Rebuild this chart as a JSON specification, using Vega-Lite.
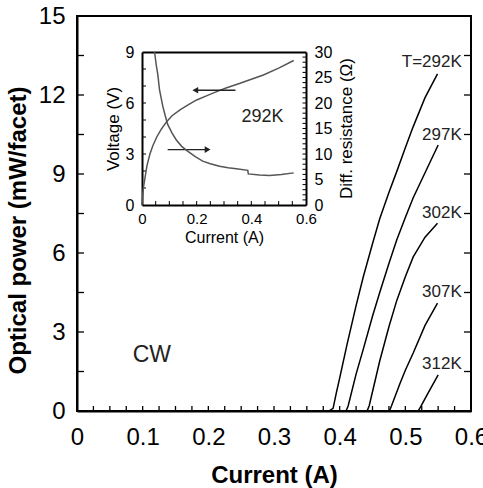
{
  "$schema": "https://vega.github.io/schema/vega-lite/v6.json",
  "width": 394,
  "height": 395,
  "autosize": "none",
  "padding": {"left": 77, "top": 16, "right": 12, "bottom": 77},
  "config": {
    "font": "Liberation Sans",
    "view": {"stroke": "black", "strokeWidth": 2},
    "axis": {"grid": false, "labelColor": "black", "titleColor": "black", "domainColor": "black", "labelFlush": false, "labelOverlap": false}
  },
  "datasets": {
    "main": [
      {"T": "292K", "I": 0.340, "P": 0}, {"T": "292K", "I": 0.385, "P": 0.02}, {"T": "292K", "I": 0.390, "P": 0.1}, {"T": "292K", "I": 0.395, "P": 0.7}, {"T": "292K", "I": 0.400, "P": 1.25}, {"T": "292K", "I": 0.411, "P": 2.5}, {"T": "292K", "I": 0.425, "P": 4.0}, {"T": "292K", "I": 0.436, "P": 5.1}, {"T": "292K", "I": 0.450, "P": 6.35}, {"T": "292K", "I": 0.461, "P": 7.3}, {"T": "292K", "I": 0.475, "P": 8.3}, {"T": "292K", "I": 0.487, "P": 9.1}, {"T": "292K", "I": 0.500, "P": 10.0}, {"T": "292K", "I": 0.512, "P": 10.8}, {"T": "292K", "I": 0.530, "P": 11.9}, {"T": "292K", "I": 0.549, "P": 12.8},
      {"T": "297K", "I": 0.395, "P": 0}, {"T": "297K", "I": 0.410, "P": 0.02}, {"T": "297K", "I": 0.413, "P": 0.2}, {"T": "297K", "I": 0.425, "P": 1.4}, {"T": "297K", "I": 0.436, "P": 2.35}, {"T": "297K", "I": 0.450, "P": 3.6}, {"T": "297K", "I": 0.461, "P": 4.5}, {"T": "297K", "I": 0.475, "P": 5.6}, {"T": "297K", "I": 0.487, "P": 6.5}, {"T": "297K", "I": 0.500, "P": 7.35}, {"T": "297K", "I": 0.512, "P": 8.1}, {"T": "297K", "I": 0.532, "P": 9.15}, {"T": "297K", "I": 0.550, "P": 10.1},
      {"T": "302K", "I": 0.430, "P": 0}, {"T": "302K", "I": 0.442, "P": 0.02}, {"T": "302K", "I": 0.445, "P": 0.2}, {"T": "302K", "I": 0.461, "P": 1.9}, {"T": "302K", "I": 0.475, "P": 3.2}, {"T": "302K", "I": 0.487, "P": 4.2}, {"T": "302K", "I": 0.500, "P": 5.1}, {"T": "302K", "I": 0.512, "P": 5.85}, {"T": "302K", "I": 0.530, "P": 6.6}, {"T": "302K", "I": 0.549, "P": 7.13},
      {"T": "307K", "I": 0.465, "P": 0}, {"T": "307K", "I": 0.476, "P": 0.02}, {"T": "307K", "I": 0.479, "P": 0.2}, {"T": "307K", "I": 0.492, "P": 1.05}, {"T": "307K", "I": 0.500, "P": 1.55}, {"T": "307K", "I": 0.512, "P": 2.2}, {"T": "307K", "I": 0.530, "P": 3.25}, {"T": "307K", "I": 0.549, "P": 4.1},
      {"T": "312K", "I": 0.510, "P": 0}, {"T": "312K", "I": 0.520, "P": 0.02}, {"T": "312K", "I": 0.523, "P": 0.15}, {"T": "312K", "I": 0.535, "P": 0.7}, {"T": "312K", "I": 0.550, "P": 1.37}
    ],
    "labels": [
      {"I": 0.586, "P": 13.25, "label": "T=292K"},
      {"I": 0.586, "P": 10.48, "label": "297K"},
      {"I": 0.586, "P": 7.52, "label": "302K"},
      {"I": 0.586, "P": 4.53, "label": "307K"},
      {"I": 0.586, "P": 1.80, "label": "312K"}
    ],
    "cw": [{"I": 0.114, "P": 2.13, "label": "CW"}],
    "xt": [{"I": 0.025, "P": 0}, {"I": 0.05, "P": 0}, {"I": 0.075, "P": 0}, {"I": 0.1, "P": 0}, {"I": 0.125, "P": 0}, {"I": 0.15, "P": 0}, {"I": 0.175, "P": 0}, {"I": 0.2, "P": 0}, {"I": 0.225, "P": 0}, {"I": 0.25, "P": 0}, {"I": 0.275, "P": 0}, {"I": 0.3, "P": 0}, {"I": 0.325, "P": 0}, {"I": 0.35, "P": 0}, {"I": 0.375, "P": 0}, {"I": 0.4, "P": 0}, {"I": 0.425, "P": 0}, {"I": 0.45, "P": 0}, {"I": 0.475, "P": 0}, {"I": 0.5, "P": 0}, {"I": 0.525, "P": 0}, {"I": 0.55, "P": 0}, {"I": 0.575, "P": 0}],
    "ytl": [{"I": 0, "P": 1.5}, {"I": 0, "P": 3}, {"I": 0, "P": 4.5}, {"I": 0, "P": 6}, {"I": 0, "P": 7.5}, {"I": 0, "P": 9}, {"I": 0, "P": 10.5}, {"I": 0, "P": 12}, {"I": 0, "P": 13.5}],
    "ytr": [{"I": 0.6, "P": 1.5}, {"I": 0.6, "P": 3}, {"I": 0.6, "P": 4.5}, {"I": 0.6, "P": 6}, {"I": 0.6, "P": 7.5}, {"I": 0.6, "P": 9}, {"I": 0.6, "P": 10.5}, {"I": 0.6, "P": 12}, {"I": 0.6, "P": 13.5}],
    "volt": [
      {"I": 0, "V": 0}, {"I": 0.002, "V": 0.5}, {"I": 0.005, "V": 1.0}, {"I": 0.01, "V": 1.5}, {"I": 0.018, "V": 2.3}, {"I": 0.029, "V": 3.0}, {"I": 0.04, "V": 3.5}, {"I": 0.054, "V": 4.0}, {"I": 0.07, "V": 4.45}, {"I": 0.09, "V": 4.9}, {"I": 0.11, "V": 5.25}, {"I": 0.139, "V": 5.6}, {"I": 0.17, "V": 5.9}, {"I": 0.2, "V": 6.18}, {"I": 0.24, "V": 6.45}, {"I": 0.273, "V": 6.67}, {"I": 0.31, "V": 6.9}, {"I": 0.359, "V": 7.16}, {"I": 0.4, "V": 7.4}, {"I": 0.444, "V": 7.65}, {"I": 0.5, "V": 8.05}, {"I": 0.555, "V": 8.5}
    ],
    "res": [
      {"I": 0.046, "R": 30}, {"I": 0.052, "R": 27.5}, {"I": 0.058, "R": 25.5}, {"I": 0.064, "R": 22.6}, {"I": 0.07, "R": 21}, {"I": 0.076, "R": 19.4}, {"I": 0.085, "R": 17.5}, {"I": 0.094, "R": 15.8}, {"I": 0.11, "R": 14.1}, {"I": 0.125, "R": 12.8}, {"I": 0.145, "R": 11.5}, {"I": 0.168, "R": 10.5}, {"I": 0.195, "R": 9.5}, {"I": 0.222, "R": 8.6}, {"I": 0.25, "R": 8.1}, {"I": 0.284, "R": 7.6}, {"I": 0.315, "R": 7.3}, {"I": 0.345, "R": 7.1}, {"I": 0.387, "R": 6.8}, {"I": 0.389, "R": 6.1}, {"I": 0.43, "R": 5.9}, {"I": 0.467, "R": 5.8}, {"I": 0.51, "R": 6.0}, {"I": 0.555, "R": 6.3}
    ],
    "ixt": [{"I": 0.05, "V": 0}, {"I": 0.1, "V": 0}, {"I": 0.15, "V": 0}, {"I": 0.2, "V": 0}, {"I": 0.25, "V": 0}, {"I": 0.3, "V": 0}, {"I": 0.35, "V": 0}, {"I": 0.4, "V": 0}, {"I": 0.45, "V": 0}, {"I": 0.5, "V": 0}, {"I": 0.55, "V": 0}],
    "ivt": [{"I": 0, "V": 1}, {"I": 0, "V": 2}, {"I": 0, "V": 3}, {"I": 0, "V": 4}, {"I": 0, "V": 5}, {"I": 0, "V": 6}, {"I": 0, "V": 7}, {"I": 0, "V": 8}],
    "irt": [{"I": 0.6, "R": 1}, {"I": 0.6, "R": 2}, {"I": 0.6, "R": 3}, {"I": 0.6, "R": 4}, {"I": 0.6, "R": 5}, {"I": 0.6, "R": 6}, {"I": 0.6, "R": 7}, {"I": 0.6, "R": 8}, {"I": 0.6, "R": 9}, {"I": 0.6, "R": 10}, {"I": 0.6, "R": 11}, {"I": 0.6, "R": 12}, {"I": 0.6, "R": 13}, {"I": 0.6, "R": 14}, {"I": 0.6, "R": 15}, {"I": 0.6, "R": 16}, {"I": 0.6, "R": 17}, {"I": 0.6, "R": 18}, {"I": 0.6, "R": 19}, {"I": 0.6, "R": 20}, {"I": 0.6, "R": 21}, {"I": 0.6, "R": 22}, {"I": 0.6, "R": 23}, {"I": 0.6, "R": 24}, {"I": 0.6, "R": 25}, {"I": 0.6, "R": 26}, {"I": 0.6, "R": 27}, {"I": 0.6, "R": 28}, {"I": 0.6, "R": 29}],
    "arrows": [
      {"I": 0.342, "I2": 0.195, "V": 6.75},
      {"I": 0.094, "I2": 0.24, "V": 3.26}
    ],
    "headL": [{"I": 0.195, "V": 6.75}],
    "headR": [{"I": 0.24, "V": 3.26}],
    "tag": [{"I": 0.441, "V": 5.2, "label": "292K"}]
  },
  "layer": [
    {
      "encoding": {
        "x": {"field": "I", "type": "quantitative", "scale": {"domain": [0, 0.6], "nice": false, "zero": false},
          "axis": {"orient": "bottom", "title": "Current (A)", "titleFontSize": 24, "titleFontWeight": "bold", "titlePadding": 14, "labelFontSize": 24, "labelPadding": 14, "ticks": false, "domainWidth": 2,
            "values": [0, 0.1, 0.2, 0.3, 0.4, 0.5, 0.6],
            "labelExpr": "toString(round(datum.value*10)/10)"}},
        "y": {"field": "P", "type": "quantitative", "scale": {"domain": [0, 15], "nice": false, "zero": false},
          "axis": {"orient": "left", "title": "Optical power (mW/facet)", "titleFontSize": 24, "titleFontWeight": "bold", "titlePadding": 8, "titleY": 214, "labelFontSize": 24, "labelPadding": 12, "ticks": false, "domainWidth": 2,
            "values": [0, 3, 6, 9, 12, 15],
            "labelExpr": "toString(round(datum.value))"}}
      },
      "layer": [
        {"data": {"name": "xt"}, "mark": {"type": "point", "shape": "M0,0V-1", "size": 100, "filled": false, "stroke": "black", "strokeWidth": 1.3, "opacity": 1}},
        {"data": {"name": "ytl"}, "mark": {"type": "point", "shape": "M0,0H1", "size": 196, "filled": false, "stroke": "black", "strokeWidth": 1.3, "opacity": 1}},
        {"data": {"name": "ytr"}, "mark": {"type": "point", "shape": "M0,0H-1", "size": 196, "filled": false, "stroke": "black", "strokeWidth": 1.3, "opacity": 1}},
        {"data": {"name": "main"}, "mark": {"type": "line", "color": "black", "strokeWidth": 1.5}, "encoding": {"detail": {"field": "T"}}},
        {"data": {"name": "labels"}, "mark": {"type": "text", "align": "right", "baseline": "middle", "fontSize": 17, "color": "#222"}, "encoding": {"text": {"field": "label"}}},
        {"data": {"name": "cw"}, "mark": {"type": "text", "align": "center", "baseline": "middle", "fontSize": 23, "color": "#222"}, "encoding": {"text": {"field": "label"}}}
      ]
    },
    {
      "encoding": {
        "x": {"field": "I", "type": "quantitative", "scale": {"domain": [0, 0.6], "nice": false, "zero": false, "range": [65, 229]},
          "axis": {"orient": "bottom", "offset": -206, "title": "Current (A)", "titleFontSize": 16, "titleFontWeight": "normal", "titlePadding": 3, "labelFontSize": 15, "labelPadding": 6, "ticks": false, "domainWidth": 2,
            "values": [0, 0.2, 0.4, 0.6],
            "labelExpr": "toString(round(datum.value*10)/10)"}},
        "y": {"field": "V", "type": "quantitative", "scale": {"domain": [0, 9], "nice": false, "zero": false, "range": [189, 36]},
          "axis": {"orient": "left", "offset": -65, "title": "Voltage (V)", "titleFontSize": 17, "titleFontWeight": "normal", "titlePadding": 3, "labelFontSize": 16, "labelPadding": 8, "ticks": false, "domainWidth": 2,
            "values": [0, 3, 6, 9]}}
      },
      "layer": [
        {"data": {"name": "ixt"}, "mark": {"type": "point", "shape": "M0,0V-1", "size": 64, "filled": false, "stroke": "black", "strokeWidth": 1, "opacity": 1}},
        {"data": {"name": "ivt"}, "mark": {"type": "point", "shape": "M0,0H1", "size": 64, "filled": false, "stroke": "black", "strokeWidth": 1, "opacity": 1}},
        {"data": {"name": "volt"}, "mark": {"type": "line", "color": "#555", "strokeWidth": 1.5}},
        {"data": {"name": "arrows"}, "mark": {"type": "rule", "color": "#222", "strokeWidth": 1.3}, "encoding": {"x2": {"field": "I2"}}},
        {"data": {"name": "headL"}, "mark": {"type": "point", "shape": "triangle-left", "filled": true, "size": 45, "color": "#222", "opacity": 1}},
        {"data": {"name": "headR"}, "mark": {"type": "point", "shape": "triangle-right", "filled": true, "size": 45, "color": "#222", "opacity": 1}},
        {"data": {"name": "tag"}, "mark": {"type": "text", "align": "center", "baseline": "middle", "fontSize": 18, "color": "#222"}, "encoding": {"text": {"field": "label"}}}
      ]
    },
    {
      "encoding": {
        "x": {"field": "I", "type": "quantitative", "scale": {"domain": [0, 0.6], "nice": false, "zero": false, "range": [65, 229]},
          "axis": {"orient": "top", "offset": -36, "title": null, "labels": false, "ticks": false, "domainWidth": 2}},
        "y": {"field": "R", "type": "quantitative", "scale": {"domain": [0, 30], "nice": false, "zero": false, "range": [189, 36]},
          "axis": {"orient": "right", "offset": -165, "title": "Diff. resistance (Ω)", "titleAngle": 270, "titleAlign": "center", "titleBaseline": "middle", "titleX": 40, "titleY": 112, "titleFontSize": 17, "titleFontWeight": "normal", "labelFontSize": 16, "labelPadding": 8, "ticks": false, "domainWidth": 2,
            "values": [0, 5, 10, 15, 20, 25, 30]}}
      },
      "layer": [
        {"data": {"name": "irt"}, "mark": {"type": "point", "shape": "M0,0H-1", "size": 49, "filled": false, "stroke": "black", "strokeWidth": 1, "opacity": 1}},
        {"data": {"name": "res"}, "mark": {"type": "line", "color": "#555", "strokeWidth": 1.5}}
      ]
    }
  ],
  "resolve": {"scale": {"x": "independent", "y": "independent"}}
}
